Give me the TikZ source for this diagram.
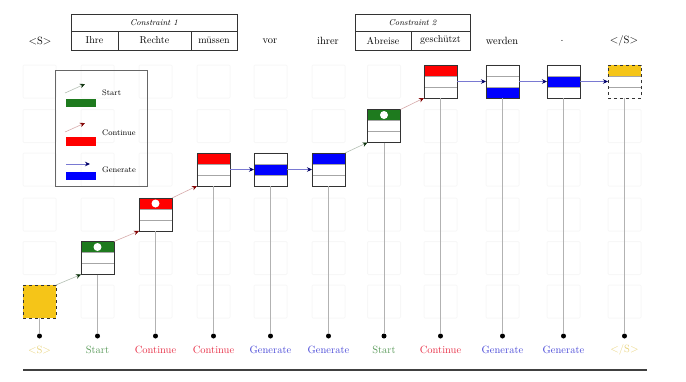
\documentclass[tikz,border=0pt]{standalone}
\usetikzlibrary{arrows.meta,calc}
\definecolor{sgreen}{HTML}{1E7A1E}
\definecolor{syellow}{HTML}{F5C518}
\definecolor{lblgreen}{HTML}{5A9A5A}
\definecolor{lblred}{HTML}{E8334A}
\definecolor{lblblue}{HTML}{4A4AD8}
\definecolor{lblyellow}{HTML}{E8D27A}
\newcommand\tokbox[7]{%
  \fill[#4] (#2-16.5,#3-16.5) rectangle (#2+16.5,#3-5.5);
  \fill[#5] (#2-16.5,#3-5.5) rectangle (#2+16.5,#3+5.5);
  \fill[#6] (#2-16.5,#3+5.5) rectangle (#2+16.5,#3+16.5);
  \draw[gray!70] (#2-16.5,#3-5.5) -- (#2+16.5,#3-5.5) (#2-16.5,#3+5.5) -- (#2+16.5,#3+5.5);
  \node[tok,#7] (#1) at (#2,#3) {};
}
\newcommand\tokdot[1]{\fill[white] ($(#1.north)+(0,5.5)$) circle (4);}
\begin{document}
\begin{tikzpicture}[x=1pt,y=-1pt,
  tok/.style={draw=black!80, line width=0.9pt, minimum width=33pt, minimum height=33pt, inner sep=0pt, outer sep=0pt},
  wordn/.style={font=\fontsize{10.5}{12}\selectfont, inner sep=1pt},
  cell/.style={draw=black!80, line width=0.8pt, minimum height=19pt, inner sep=0pt, outer sep=0pt, font=\fontsize{10}{12}\selectfont},
  hcell/.style={draw=black!80, line width=0.8pt, minimum height=17pt, inner sep=0pt, outer sep=0pt, font=\fontsize{8.5}{10}\selectfont\itshape},
  lbl/.style={font=\fontsize{10.5}{12}\selectfont, inner sep=1pt},
  dotn/.style={circle, fill=black, minimum size=5pt, inner sep=0pt},
  vline/.style={draw=gray!60, line width=1pt},
  startarr/.style={draw=sgreen!25!gray!50, line width=0.6pt, -{Stealth[length=5pt,width=4.5pt,color=sgreen!40!black]}},
  contarr/.style={draw=red!35!gray!50, line width=0.6pt, -{Stealth[length=5pt,width=4.5pt,color=red!50!black]}},
  genarr/.style={draw=blue!50!gray!70, line width=0.8pt, -{Stealth[length=5pt,width=4.5pt,color=blue!40!black]}},
  ghost/.style={draw=black!3, line width=1pt, rounded corners=1pt},
  legtxt/.style={font=\fontsize{8}{9}\selectfont, anchor=west, inner sep=0pt}
]
\useasboundingbox (0,0) rectangle (686,381);
% faint background grid
\foreach \gx in {39.5,97.5,155.5,213.5,270.5,328.5,384,440.5,502.5,563.5,624.5}{
  \foreach \gy in {81.5,126,169.5,214.5,258,301.5}{
    \draw[ghost] (\gx-16.5,\gy-16.5) rectangle (\gx+16.5,\gy+16.5);
  }
}
% top words
\node[wordn] (w0) at (40,41) {$<$S$>$};
\node[wordn] (w4) at (270,41) {vor};
\node[wordn] (w5) at (328,41) {ihrer};
\node[wordn] (w8) at (502,41) {werden};
\node[wordn] (w9) at (562,41) {.};
\node[wordn] (w10) at (624,41) {$<$/S$>$};
% constraint 1
\node[hcell, minimum width=166pt] (c1h) at (154,22.5) {Constraint 1};
\node[cell, minimum width=47pt] (w1) at (94.5,40.5) {Ihre};
\node[cell, minimum width=73pt] (w2) at (154.5,40.5) {Rechte};
\node[cell, minimum width=46pt] (w3) at (214,40.5) {m\"ussen};
% constraint 2
\node[hcell, minimum width=115pt] (c2h) at (412.5,22.5) {Constraint 2};
\node[cell, minimum width=56pt] (w6) at (383,40.5) {Abreise};
\node[cell, minimum width=59pt] (w7) at (440.5,40.5) {gesch\"utzt};
% legend
\node[draw=gray!80!black, line width=0.9pt, minimum width=92pt, minimum height=116pt, inner sep=0pt] (leg) at (101,128) {};
\coordinate (ls0) at (65,93); \coordinate (ls1) at (85,84);
\draw[startarr] (ls0) -- (ls1);
\fill[sgreen] (66,99) rectangle (96,107);
\node[legtxt] (lt1) at (102,93) {Start};
\coordinate (lc0) at (65,132); \coordinate (lc1) at (85,123);
\draw[contarr] (lc0) -- (lc1);
\fill[red] (66,137) rectangle (96,146);
\node[legtxt] (lt2) at (102,133) {Continue};
\coordinate (lg0) at (66,164); \coordinate (lg1) at (90,164);
\draw[genarr] (lg0) -- (lg1);
\fill[blue] (66,172) rectangle (96,180);
\node[legtxt] (lt3) at (102,170) {Generate};
% boxes
\fill[syellow] (23,285) rectangle (56,318);
\node[tok, dashed] (b0) at (39.5,301.5) {};
\tokbox{b1}{97.5}{258}{sgreen}{white}{white}{}
\tokdot{b1}
\tokbox{b2}{155.5}{214.5}{red}{white}{white}{}
\tokdot{b2}
\tokbox{b3}{213.5}{169.5}{red}{white}{white}{}
\tokbox{b4}{270.5}{169.5}{white}{blue}{white}{}
\tokbox{b5}{328.5}{169.5}{blue}{white}{white}{}
\tokbox{b6}{384}{126}{sgreen}{white}{white}{}
\tokdot{b6}
\tokbox{b7}{440.5}{81.5}{red}{white}{white}{}
\tokbox{b8}{502.5}{81.5}{white}{white}{blue}{}
\tokbox{b9}{563.5}{81.5}{white}{blue}{white}{}
\tokbox{b10}{624.5}{81.5}{syellow}{white}{white}{dashed}
% transitions
\draw[startarr] (b0.north east) -- (b1.south west);
\draw[contarr] (b1.north east) -- (b2.south west);
\draw[contarr] (b2.north east) -- (b3.south west);
\draw[genarr] (b3.east) -- (b4.west);
\draw[genarr] (b4.east) -- (b5.west);
\draw[startarr] (b5.north east) -- (b6.south west);
\draw[contarr] (b6.north east) -- (b7.south west);
\draw[genarr] (b7.east) -- (b8.west);
\draw[genarr] (b8.east) -- (b9.west);
\draw[genarr] (b9.east) -- (b10.west);
% dots and lines
\foreach \i/\x in {0/39.5,1/97.5,2/155.5,3/213.5,4/270.5,5/328.5,6/384,7/440.5,8/502.5,9/563.5,10/624.5}{
  \node[dotn] (d\i) at (\x,336) {};
  \draw[vline] (b\i.south) -- (d\i.north);
}
% labels
\node[lbl, text=lblyellow] (l0) at (39.5,350) {$<$S$>$};
\node[lbl, text=lblgreen] (l1) at (97.5,350) {Start};
\node[lbl, text=lblred] (l2) at (155.5,350) {Continue};
\node[lbl, text=lblred] (l3) at (213.5,350) {Continue};
\node[lbl, text=lblblue] (l4) at (270.5,350) {Generate};
\node[lbl, text=lblblue] (l5) at (328.5,350) {Generate};
\node[lbl, text=lblgreen] (l6) at (384,350) {Start};
\node[lbl, text=lblred] (l7) at (440.5,350) {Continue};
\node[lbl, text=lblblue] (l8) at (502.5,350) {Generate};
\node[lbl, text=lblblue] (l9) at (563.5,350) {Generate};
\node[lbl, text=lblyellow] (l10) at (624.5,350) {$<$/S$>$};
% bottom rule
\coordinate (r0) at (23,370); \coordinate (r1) at (647,370);
\draw[black!75, line width=1.2pt] (r0) -- (r1);
\end{tikzpicture}
\end{document}
